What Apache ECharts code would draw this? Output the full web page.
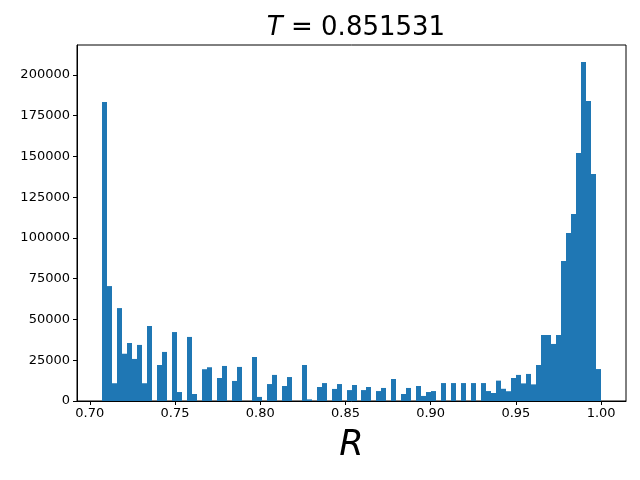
<!DOCTYPE html>
<html>
<head>
<meta charset="utf-8">
<script src="https://cdn.jsdelivr.net/npm/echarts@6/dist/echarts.min.js"></script>
<style>
  html, body { margin: 0; padding: 0; background: #fff; }
  #chart { width: 640px; height: 480px; }
</style>
</head>
<body>
<div id="chart"></div>
<script>
// histogram of R, 100 equal bins between binLo and binHi
var binLo = 0.70711;
var binHi = 1.0;
var counts = [
  183500, 70500, 10900, 57000, 29000, 35600, 25800, 34400, 10900, 46000,
  0, 22100, 30100, 0, 42300, 5500, 0, 39300, 4300, 0,
  19500, 20700, 0, 14100, 21500, 0, 12300, 20900, 0, 0,
  27000, 2500, 0, 10400, 16000, 0, 9200, 14700, 0, 0,
  22100, 1000, 0, 8600, 11000, 0, 7400, 10400, 0, 6700,
  9800, 0, 6700, 8600, 0, 6100, 8000, 0, 13500, 0,
  4300, 8000, 0, 9200, 3100, 5500, 6100, 0, 11000, 0,
  11000, 0, 11000, 0, 11000, 0, 11000, 6100, 4900, 12500,
  7500, 6000, 14100, 16000, 10800, 16600, 10200, 22100, 40500, 40500,
  35000, 40500, 85900, 103000, 114700, 152200, 208000, 184000, 139300, 19600
];
var xTicks = [0.70, 0.75, 0.80, 0.85, 0.90, 0.95, 1.00];
var yTicks = [0, 25000, 50000, 75000, 100000, 125000, 150000, 175000, 200000];
var titleValue = '0.851531';

var binW = (binHi - binLo) / counts.length;
var bins = counts.map(function (c, i) {
  return [binLo + i * binW, binLo + (i + 1) * binW, c];
});

var chart = echarts.init(document.getElementById('chart'), null, { renderer: 'canvas' });

var labelFont = 'DejaVu Sans';
var option = {
  animation: false,
  backgroundColor: '#fff',
  title: {
    text: '{i|T} = ' + titleValue,
    left: 351,
    textAlign: 'center',
    top: 10,
    textStyle: {
      fontFamily: labelFont,
      fontSize: 26,
      fontWeight: 'normal',
      color: '#000',
      rich: {
        i: { fontFamily: labelFont, fontSize: 26, fontStyle: 'italic', color: '#000' }
      }
    }
  },
  grid: {
    left: 77, right: 14, top: 45, bottom: 79,
    show: true, borderColor: '#000', borderWidth: 1, backgroundColor: 'transparent'
  },
  xAxis: {
    type: 'value',
    min: 0.6925,
    max: 1.0146,
    name: 'R',
    nameLocation: 'middle',
    nameGap: 27,
    nameTextStyle: { fontFamily: labelFont, fontSize: 35, fontStyle: 'italic', color: '#000' },
    splitLine: { show: false },
    axisLine: { show: true, onZero: false, lineStyle: { color: '#000', width: 1 } },
    axisTick: { show: true, length: 4, lineStyle: { color: '#000' }, customValues: xTicks },
    axisLabel: {
      margin: 6, fontFamily: labelFont, fontSize: 13, color: '#000',
      customValues: xTicks,
      formatter: function (v) { return v.toFixed(2); }
    }
  },
  yAxis: {
    type: 'value',
    min: 0,
    max: 218400,
    splitLine: { show: false },
    axisLine: { show: true, lineStyle: { color: '#000', width: 1 } },
    axisTick: { show: true, length: 4, lineStyle: { color: '#000' }, customValues: yTicks },
    axisLabel: {
      margin: 7, fontFamily: labelFont, fontSize: 13, color: '#000',
      customValues: yTicks,
      formatter: function (v) { return String(v); }
    }
  },
  series: [{
    type: 'custom',
    data: bins,
    encode: { x: [0, 1], y: 2 },
    renderItem: function (params, api) {
      var p0 = api.coord([api.value(0), 0]);
      var p1 = api.coord([api.value(1), api.value(2)]);
      // snap bin edges to whole pixels so neighbouring bars join without seams
      var xa = Math.round(p0[0]);
      var xb = Math.round(p1[0]);
      return {
        type: 'rect',
        shape: { x: xa, y: p1[1], width: xb - xa, height: p0[1] - p1[1] },
        style: { fill: '#1f77b4' }
      };
    }
  }]
};
chart.setOption(option);
</script>
</body>
</html>
